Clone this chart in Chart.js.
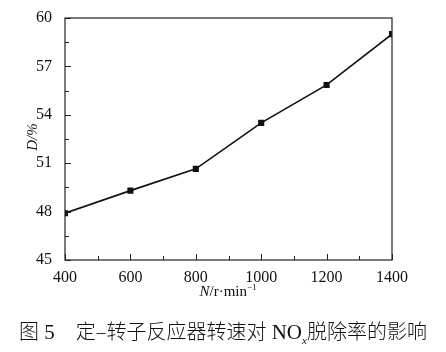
<!DOCTYPE html>
<html>
<head>
<meta charset="utf-8">
<script src="https://cdn.jsdelivr.net/npm/chart.js@4"></script>
<style>
    body { margin: 0; background: #fff; }
    #wrap { position: relative; width: 446px; height: 352px; }
    #caption {
        position: absolute; left: 0; top: 316px; width: 446px; text-align: center; white-space: nowrap;
        font-family: "Liberation Serif", "Noto Sans CJK SC", serif; font-size: 21px; color: #111;
    }
    #caption .cjk { font-family: "Noto Sans CJK SC", sans-serif; font-weight: 300; font-size: 20px; }
</style>
</head>
<body>
<div id="wrap">
    <canvas id="speedChart" width="446" height="352"></canvas>
    <div id="caption"><span class="cjk">图</span> 5&nbsp;&nbsp;&nbsp;&nbsp;<span class="cjk">定–转子反应器转速对</span> NO<sub style="font-size:11px;font-style:italic">x</sub><span class="cjk">脱除率的影响</span></div>
</div>
<script>
const speeds = [400, 600, 800, 1000, 1200, 1400];
const removalRate = [47.9, 49.3, 50.65, 53.5, 55.85, 59.0];
const yTicks = [45, 48, 51, 54, 57, 60];
const xTicks = [400, 600, 800, 1000, 1200, 1400];

const serif = "'Liberation Serif', 'Times New Roman', serif";

// inward ticks, frame and axis titles
const framePlugin = {
    id: 'frame',
    afterDraw(chart) {
        const ctx = chart.ctx;
        const a = chart.chartArea;
        const x = chart.scales.x, y = chart.scales.y;
        ctx.save();
        ctx.strokeStyle = '#222';
        ctx.lineWidth = 1.2;
        ctx.strokeRect(a.left, a.top, a.right - a.left, a.bottom - a.top);

        ctx.lineWidth = 1;
        for (let v = 45; v <= 60.01; v += 1.5) {
            const py = Math.round(y.getPixelForValue(v)) + 0.5;
            const len = yTicks.includes(Math.round(v * 10) / 10) ? 6 : 4;
            ctx.beginPath();
            ctx.moveTo(a.left, py);
            ctx.lineTo(a.left + len, py);
            ctx.stroke();
        }
        for (let v = 400; v <= 1400; v += 100) {
            const px = Math.round(x.getPixelForValue(v)) + 0.5;
            const len = xTicks.includes(v) ? 6 : 4;
            ctx.beginPath();
            ctx.moveTo(px, a.bottom);
            ctx.lineTo(px, a.bottom - len);
            ctx.stroke();
        }

        // x title: N/r·min-1
        ctx.fillStyle = '#111';
        ctx.textBaseline = 'alphabetic';
        const parts = [
            { t: 'N', f: 'italic 15px ' + serif },
            { t: '/r\u00b7min', f: '15px ' + serif },
            { t: '\u22121', f: '9px ' + serif, up: 6 }
        ];
        let total = 0;
        parts.forEach(p => { ctx.font = p.f; p.w = ctx.measureText(p.t).width; total += p.w; });
        let cx = 228 - total / 2;
        parts.forEach(p => {
            ctx.font = p.f;
            ctx.fillText(p.t, cx, 296 - (p.up || 0));
            cx += p.w;
        });

        // y title: D/%
        ctx.translate(37, 137);
        ctx.rotate(-Math.PI / 2);
        ctx.font = 'italic 15px ' + serif;
        const dW = ctx.measureText('D').width;
        const restW = ctx.measureText('/%').width;
        const sx = -(dW + restW) / 2;
        ctx.fillText('D', sx, 0);
        ctx.fillText('/%', sx + dW, 0);
        ctx.restore();
    }
};

new Chart(document.getElementById('speedChart'), {
    type: 'line',
    data: {
        datasets: [{
            data: speeds.map((s, i) => ({ x: s, y: removalRate[i] })),
            borderColor: '#111',
            backgroundColor: '#111',
            borderWidth: 1.6,
            pointStyle: 'rect',
            pointRadius: 3.2,
            tension: 0
        }]
    },
    options: {
        responsive: false,
        animation: false,
        layout: { padding: { left: 0, top: 18, right: 54, bottom: 0 } },
        plugins: { legend: { display: false }, tooltip: { enabled: false } },
        scales: {
            x: {
                type: 'linear',
                min: 400, max: 1400,
                afterFit: s => { s.height = 92; },
                afterBuildTicks: s => { s.ticks = xTicks.map(v => ({ value: v })); },
                grid: { display: false },
                border: { display: false },
                ticks: {
                    color: '#111', padding: 0, maxRotation: 0, font: { family: serif, size: 16 },
                    callback: v => String(v)
                }
            },
            y: {
                min: 45, max: 60,
                afterFit: s => { s.width = 65; },
                afterBuildTicks: s => { s.ticks = yTicks.map(v => ({ value: v })); },
                grid: { display: false },
                border: { display: false },
                ticks: { color: '#111', padding: 5, font: { family: serif, size: 16 } }
            }
        }
    },
    plugins: [framePlugin]
});
</script>
</body>
</html>
